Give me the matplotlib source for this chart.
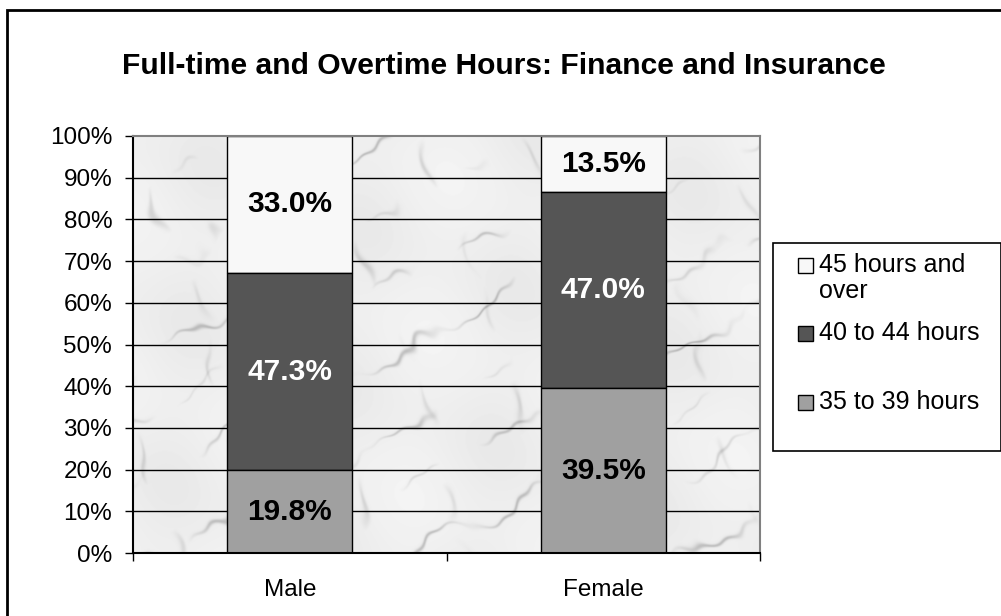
import numpy as np
import matplotlib
matplotlib.use("Agg")
import matplotlib.patches as patches
from matplotlib import pyplot as plt

plt.rcParams['font.family'] = ['Liberation Sans', 'DejaVu Sans']

CATEGORIES = ["Male", "Female"]
HOURS_35_39 = [19.8, 39.5]
HOURS_40_44 = [47.3, 47.0]
HOURS_45_PLUS = [33.0, 13.5]
SERIES_LABELS = ["45 hours and\nover", "40 to 44 hours", "35 to 39 hours"]
SERIES_COLORS = ["#f8f8f8", "#555555", "#a0a0a0"]
LABEL_COLORS = ["black", "white", "black"]
TITLE = "Full-time and Overtime Hours: Finance and Insurance"

W, H = 1001, 616
fig = plt.figure(figsize=(W / 100, H / 100), dpi=100)
fig.patch.set_facecolor("white")

# outer chart frame
fig.add_artist(patches.Rectangle((7 / W, -0.1), 1.2, (H - 10) / H + 0.1, transform=fig.transFigure,
                                 fill=False, edgecolor="black", linewidth=2))

ax = fig.add_axes([133 / W, (H - 553) / H, 627 / W, 417 / H])

# marble-ish backdrop: faint irregular grey veins on near white (deterministic)
yy, xx = np.mgrid[0:417, 0:627].astype(float)
warp = (9 * np.sin(xx / 41.0 + yy / 53.0) + 6 * np.sin(xx / 19.0 - yy / 27.0)
        + 4 * np.sin(xx / 9.3 + yy / 13.1) + 2 * np.sin(xx / 4.7 - yy / 5.9)
        + 7 * np.sin(xx / 71.0 - yy / 33.0) * np.sin(yy / 17.0))
phase1 = (xx * 0.55 + yy * 1.0 + warp) / 23.0
phase2 = (xx * 1.0 - yy * 0.35 + 0.7 * warp) / 31.0
veins1 = np.exp(-(np.sin(phase1) ** 2) / 0.012)
veins2 = np.exp(-(np.sin(phase2) ** 2) / 0.008)
patchy1 = np.clip(np.sin(xx / 47.0 - yy / 29.0) * np.sin(xx / 23.0 + yy / 37.0) + 0.2, 0, 1)
patchy2 = np.clip(np.sin(xx / 31.0 + yy / 19.0) * np.sin(xx / 53.0 - yy / 43.0), 0, 1)
shade = 0.5 + 0.5 * np.sin(xx / 83.0 + yy / 47.0) * np.sin(xx / 37.0 - yy / 61.0)
marble = 0.955 - 0.18 * veins1 * patchy1 - 0.12 * veins2 * patchy2 - 0.04 * shade
ax.imshow(marble, extent=(-0.5, 1.5, 0, 1), aspect="auto", cmap="gray", vmin=0, vmax=1,
          zorder=0, interpolation="bilinear")

for yv in np.arange(0.1, 1.0, 0.1):
    ax.axhline(yv, color="black", linewidth=1, zorder=1)

x = np.arange(len(CATEGORIES))
series = [HOURS_45_PLUS, HOURS_40_44, HOURS_35_39]
bottoms = [np.array(HOURS_35_39) + np.array(HOURS_40_44), np.array(HOURS_35_39), np.zeros(2)]
for vals, bot, col, tcol in zip(series, bottoms, SERIES_COLORS, LABEL_COLORS):
    v = np.array(vals) / 100
    b = bot / 100
    ax.bar(x, v, bottom=b, width=0.4, color=col, edgecolor="black", linewidth=1, zorder=2)
    for xi, vi, bi in zip(x, v, b):
        ax.text(xi, bi + vi / 2, f"{vi * 100:.1f}%", ha="center", va="center", fontsize=21.5,
                fontweight="bold", color=tcol, zorder=3)

ax.set_xlim(-0.5, 1.5)
ax.set_ylim(0, 1)
ax.set_yticks(np.arange(0, 1.01, 0.1))
ax.set_yticklabels([f"{int(round(t * 100))}%" for t in np.arange(0, 1.01, 0.1)], fontsize=17.5)
ax.set_xticks([-0.5, 0.5, 1.5])
ax.set_xticklabels([])
ax.set_xticks(x, minor=True)
ax.set_xticklabels(CATEGORIES, minor=True, fontsize=17.5)
ax.tick_params(axis="x", which="minor", length=0, pad=19)
ax.tick_params(axis="x", which="major", length=6, width=1, direction="out")
ax.tick_params(axis="y", length=6, width=1, direction="out", pad=9)
for side in ("top", "right"):
    ax.spines[side].set_color("#808080")
    ax.spines[side].set_linewidth(1.5)
for side in ("left", "bottom"):
    ax.spines[side].set_color("black")
    ax.spines[side].set_linewidth(1.5)

fig.text(504 / W, 1 - 66 / H, TITLE, ha="center", va="center", fontsize=21.6, fontweight="bold")

# legend box
lx0, ly0, lx1, ly1 = 773, 243, 1001, 451
fig.add_artist(patches.Rectangle((lx0 / W, 1 - ly1 / H), (lx1 - lx0) / W, (ly1 - ly0) / H,
                                 transform=fig.transFigure, facecolor="white", edgecolor="black",
                                 linewidth=1.2))
entry_y = [265, 333, 402]
for lab, col, ey in zip(SERIES_LABELS, SERIES_COLORS, entry_y):
    fig.add_artist(patches.Rectangle((798 / W, 1 - (ey + 7.5) / H), 15 / W, 15 / H,
                                     transform=fig.transFigure, facecolor=col, edgecolor="black",
                                     linewidth=1))
    fig.text(819 / W, 1 - (ey - 12) / H, lab, ha="left", va="top", fontsize=18, linespacing=1.13)

fig.savefig("out.png", dpi=100)
